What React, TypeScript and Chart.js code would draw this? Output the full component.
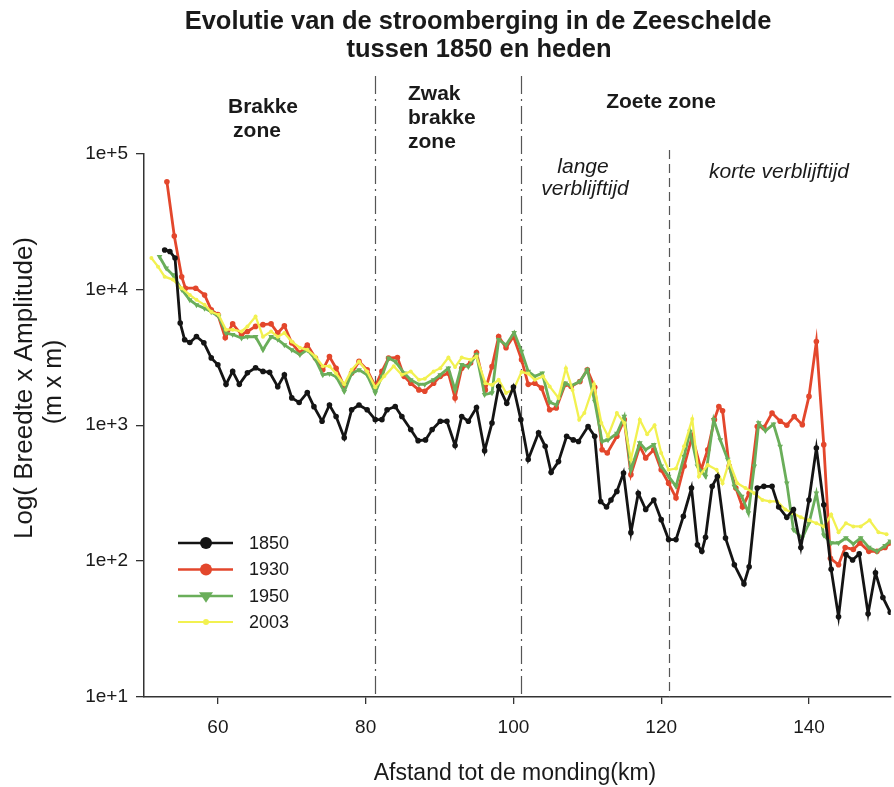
import React, { useEffect, useRef } from 'react';
import { Chart, registerables } from 'chart.js';

Chart.register(...registerables);

const FONT = '"Liberation Sans", Arial, Helvetica, sans-serif';

// ---------- data ----------
const xTicks = [60, 80, 100, 120, 140];
const yTicks = [10, 100, 1000, 10000, 100000];
const zoneBounds = [81.2, 101.0, 121.0];
const seriesLabels = ['1850', '1930', '1950', '2003'];

const km1850 = [52.8, 53.5, 54.2, 54.9, 55.5, 56.2, 57.1, 58.1, 59.1, 60.0, 61.1, 62.0, 62.9, 64.0, 65.1, 66.1, 67.0, 68.1, 69.0, 70.0, 71.0, 72.1, 73.0, 74.1, 75.1, 76.0, 77.1, 78.1, 79.1, 80.2, 81.3, 82.2, 82.9, 84.0, 84.9, 86.1, 87.1, 88.1, 89.0, 90.1, 91.0, 92.1, 93.0, 93.9, 95.0, 96.1, 97.1, 98.0, 99.1, 100.0, 101.0, 102.0, 103.4, 104.3, 105.1, 106.1, 107.2, 108.1, 108.8, 110.1, 111.0, 111.8, 112.6, 113.2, 114.0, 114.9, 115.9, 116.9, 117.9, 119.0, 120.0, 121.0, 122.0, 123.0, 124.1, 124.9, 125.5, 126.0, 126.9, 127.6, 128.7, 129.9, 131.2, 131.9, 133.0, 133.9, 135.0, 135.9, 137.0, 137.9, 138.9, 140.0, 141.0, 142.0, 143.0, 144.0, 145.0, 145.9, 146.8, 148.0, 149.0, 150.0, 151.0];
const val1850 = [19500, 19000, 17000, 5650, 4260, 4060, 4500, 4050, 3130, 2790, 2000, 2490, 2000, 2430, 2650, 2490, 2450, 1920, 2350, 1590, 1470, 1740, 1370, 1070, 1410, 1160, 810, 1300, 1410, 1300, 1100, 1100, 1300, 1375, 1160, 930, 770, 780, 930, 1070, 1070, 710, 1160, 1070, 1350, 650, 1040, 1930, 1450, 1910, 1100, 560, 880, 700, 450, 540, 830, 780, 760, 980, 830, 275, 250, 282, 326, 445, 162, 316, 240, 282, 202, 144, 144, 214, 345, 132, 118, 150, 355, 420, 148, 94, 68, 91, 345, 355, 355, 250, 210, 240, 126, 282, 680, 260, 87, 39, 112, 102, 113, 41, 82, 54, 42];

const km1930 = [53.1, 54.1, 55.1, 55.6, 57.0, 58.2, 59.1, 60.0, 61.0, 62.0, 63.2, 64.0, 65.1, 66.1, 67.2, 68.1, 69.0, 70.0, 71.1, 72.1, 73.2, 74.2, 75.1, 76.0, 77.1, 78.1, 79.1, 80.2, 81.3, 82.2, 83.1, 84.3, 85.2, 86.1, 87.2, 88.0, 89.2, 90.1, 91.2, 92.1, 93.0, 94.2, 95.0, 96.2, 97.1, 98.0, 99.0, 100.0, 101.1, 102.0, 102.9, 103.8, 104.9, 105.8, 107.0, 107.8, 109.0, 110.0, 111.0, 112.0, 112.7, 114.0, 115.0, 115.9, 117.1, 117.9, 119.0, 120.0, 121.0, 122.0, 123.1, 124.2, 125.4, 126.3, 127.2, 127.8, 128.3, 129.2, 130.1, 131.0, 131.9, 133.0, 133.9, 135.0, 136.1, 137.0, 138.0, 139.1, 140.0, 141.0, 142.0, 142.9, 144.0, 144.9, 146.0, 146.9, 148.1, 149.2, 150.3, 151.0];
const val1930 = [62000, 24700, 12400, 10200, 10200, 9100, 7070, 6520, 4400, 5570, 4650, 4900, 5340, 5500, 5570, 4770, 5400, 4030, 3400, 3900, 3120, 2560, 3200, 2630, 1930, 2420, 2950, 2560, 1930, 2490, 3120, 3150, 2290, 2040, 1820, 1780, 2040, 2290, 2420, 1590, 2630, 2870, 3430, 1820, 2700, 4500, 3720, 4500, 3040, 2000, 2040, 1880, 1300, 1340, 2000, 1930, 2100, 2560, 1900, 660, 625, 830, 1100, 433, 700, 575, 660, 470, 375, 292, 500, 830, 470, 660, 1100, 1375, 1280, 500, 345, 250, 316, 980, 960, 1230, 1070, 1000, 1160, 1010, 1630, 4130, 720, 105, 94, 126, 122, 136, 118, 118, 126, 136];

const km1950 = [52.1, 53.0, 53.9, 55.1, 56.2, 57.1, 58.2, 59.1, 60.1, 61.1, 62.0, 63.2, 64.0, 65.1, 66.1, 67.2, 68.1, 69.0, 70.0, 71.1, 72.1, 73.2, 74.2, 75.1, 76.0, 77.1, 78.1, 79.1, 80.2, 81.3, 82.2, 83.1, 84.0, 85.2, 86.1, 87.2, 88.0, 89.2, 90.1, 91.2, 92.1, 93.0, 93.9, 95.0, 96.1, 97.1, 98.0, 99.0, 100.1, 101.1, 102.0, 102.9, 103.9, 104.9, 105.8, 107.0, 107.8, 109.0, 110.0, 111.0, 112.0, 112.8, 114.0, 115.0, 115.9, 117.1, 117.9, 119.0, 120.0, 121.0, 122.0, 123.1, 123.9, 124.9, 126.0, 127.1, 128.0, 129.0, 129.9, 130.9, 131.8, 132.6, 133.2, 134.1, 135.2, 136.1, 137.0, 137.9, 139.1, 140.0, 141.0, 142.0, 143.0, 144.0, 145.0, 146.0, 147.0, 148.1, 149.2, 150.3, 151.0];
const val1950 = [17400, 14300, 12800, 10000, 8370, 7690, 7250, 6830, 6320, 4770, 4650, 4380, 4480, 4480, 3590, 4480, 4280, 3900, 3590, 3310, 3590, 3050, 2350, 2400, 2280, 1770, 2400, 2560, 2350, 1730, 2290, 3120, 2950, 2420, 2160, 2000, 2000, 2160, 2350, 2630, 1820, 2790, 2700, 3310, 1680, 1730, 4260, 3900, 4810, 3490, 2490, 2290, 2420, 1480, 1410, 2040, 1950, 2100, 2560, 1500, 760, 780, 870, 1160, 470, 740, 660, 720, 500, 420, 355, 590, 900, 500, 420, 1100, 780, 560, 355, 300, 226, 500, 1040, 910, 1020, 700, 375, 170, 148, 190, 316, 155, 136, 136, 148, 134, 148, 126, 118, 130, 140];

const km2003 = [51.0, 51.9, 52.8, 53.9, 55.1, 56.2, 57.1, 58.2, 59.1, 60.1, 61.1, 62.0, 63.2, 64.0, 65.1, 66.1, 67.2, 68.1, 69.0, 70.0, 71.1, 72.1, 73.2, 74.2, 75.1, 76.0, 77.1, 78.1, 79.1, 80.2, 81.3, 82.5, 83.8, 84.9, 86.1, 87.2, 88.0, 89.2, 90.1, 91.2, 92.1, 93.0, 94.2, 95.0, 96.2, 97.1, 98.0, 99.0, 100.0, 101.1, 102.0, 102.9, 104.0, 104.9, 106.1, 107.1, 108.0, 108.9, 109.6, 110.9, 111.9, 112.8, 114.0, 115.0, 115.9, 117.1, 118.1, 119.1, 120.0, 121.0, 122.0, 123.1, 124.2, 125.1, 126.3, 127.5, 128.3, 129.2, 130.3, 131.4, 132.6, 133.7, 134.7, 135.7, 136.8, 137.8, 138.9, 140.0, 141.0, 142.0, 143.0, 144.0, 145.0, 146.0, 147.0, 148.2, 149.4, 150.5];
const val2003 = [17000, 14700, 12400, 11800, 10200, 9100, 8370, 7700, 6830, 6500, 5050, 5050, 4900, 5340, 6320, 4480, 4900, 4480, 4770, 4130, 3720, 3590, 3200, 2720, 2720, 2400, 2000, 2560, 2950, 2490, 1900, 2290, 2720, 2350, 2490, 2160, 2200, 2490, 2630, 3150, 2680, 3150, 3040, 3200, 2040, 1980, 2160, 1730, 1820, 2470, 2400, 2160, 2290, 1930, 1590, 2630, 1820, 1100, 1230, 2000, 1040, 830, 1230, 1040, 560, 1100, 860, 1000, 625, 470, 480, 700, 1110, 420, 510, 470, 375, 540, 375, 345, 316, 282, 275, 275, 240, 226, 210, 200, 190, 180, 220, 163, 190, 180, 180, 200, 163, 158];

const COLORS = ['#141414', '#e3472c', '#6aae5a', '#f2f150'];

const toPoints = (xs: number[], ys: number[]) => xs.map((k, i) => ({ x: k, y: ys[i] }));

const overlayPlugin = {
  id: 'overlay',
  beforeDatasetsDraw(chart: any) {
    const { ctx, scales, chartArea } = chart;
    const xs = scales.x;
    const tops = [76, 76, 150];
    ctx.save();
    ctx.strokeStyle = '#555';
    ctx.lineWidth = 1.2;
    zoneBounds.forEach((km, i) => {
      const px = Math.round(xs.getPixelForValue(km)) + 0.5;
      ctx.setLineDash(i < 2 ? [18, 5, 2, 5] : [9, 5]);
      ctx.beginPath();
      ctx.moveTo(px, tops[i]);
      ctx.lineTo(px, chartArea.bottom);
      ctx.stroke();
    });
    ctx.restore();
  },
  afterDraw(chart: any) {
    const { ctx } = chart;
    ctx.save();
    ctx.fillStyle = '#1a1a1a';
    ctx.textBaseline = 'alphabetic';

    // title
    ctx.font = `bold 25.5px ${FONT}`;
    ctx.textAlign = 'center';
    ctx.fillText('Evolutie van de stroomberging in de Zeeschelde', 478, 29);
    ctx.fillText('tussen 1850 en heden', 479, 57);

    // zone labels
    ctx.font = `bold 21px ${FONT}`;
    ctx.textAlign = 'center';
    ctx.fillText('Brakke', 263, 113);
    ctx.fillText('zone', 257, 137);
    ctx.textAlign = 'left';
    ctx.fillText('Zwak', 408, 100);
    ctx.fillText('brakke', 408, 124);
    ctx.fillText('zone', 408, 148);
    ctx.textAlign = 'center';
    ctx.fillText('Zoete zone', 661, 108);

    ctx.font = `italic 21px ${FONT}`;
    ctx.fillText('lange', 583, 173);
    ctx.fillText('verblijftijd', 585, 195);
    ctx.fillText('korte verblijftijd', 779, 178);

    // axis titles
    ctx.font = `23px ${FONT}`;
    ctx.textBaseline = 'middle';
    ctx.fillText('Afstand tot de monding(km)', 515, 774);

    ctx.save();
    ctx.translate(25, 388);
    ctx.rotate(-Math.PI / 2);
    ctx.font = `26px ${FONT}`;
    ctx.fillText('Log( Breedte x Amplitude)', 0, 0);
    ctx.restore();
    ctx.save();
    ctx.translate(54, 382);
    ctx.rotate(-Math.PI / 2);
    ctx.font = `25px ${FONT}`;
    ctx.fillText('(m x m)', 0, 0);
    ctx.restore();

    // legend
    const rowY = [543, 569.5, 596, 622];
    seriesLabels.forEach((lab, i) => {
      const y = rowY[i];
      const c = COLORS[i];
      ctx.strokeStyle = c;
      ctx.lineWidth = i === 3 ? 2.2 : 2.6;
      ctx.beginPath();
      ctx.moveTo(178, y);
      ctx.lineTo(233, y);
      ctx.stroke();
      ctx.fillStyle = c;
      ctx.beginPath();
      if (i === 2) {
        const r = 7;
        ctx.moveTo(206 - r, y - r * 0.55);
        ctx.lineTo(206 + r, y - r * 0.55);
        ctx.lineTo(206, y + r * 0.95);
        ctx.closePath();
      } else {
        ctx.arc(206, y, i === 3 ? 3 : 6, 0, Math.PI * 2);
      }
      ctx.fill();
      ctx.fillStyle = '#1a1a1a';
      ctx.font = `18px ${FONT}`;
      ctx.textAlign = 'left';
      ctx.textBaseline = 'middle';
      ctx.fillText(lab, 249, y + 1);
    });
    ctx.restore();
  },
};

export default function App() {
  const ref = useRef<HTMLCanvasElement | null>(null);
  useEffect(() => {
    if (!ref.current) return;
    const mk = (i: number, xs: number[], ys: number[], extra: any = {}) => ({
      label: seriesLabels[i],
      data: toPoints(xs, ys),
      borderColor: COLORS[i],
      backgroundColor: COLORS[i],
      pointBackgroundColor: COLORS[i],
      pointBorderWidth: 0,
      borderWidth: 2.8,
      pointRadius: 2.8,
      pointHoverRadius: 0,
      tension: 0,
      ...extra,
    });
    const chart = new Chart(ref.current, {
      type: 'line',
      data: {
        datasets: [
          mk(0, km1850, val1850, { order: 0 }),
          mk(1, km1930, val1930, { order: 3 }),
          mk(2, km1950, val1950, { order: 2, pointStyle: 'triangle', pointRotation: 180, pointRadius: 3.3 }),
          mk(3, km2003, val2003, { order: 1, borderWidth: 2.3, pointRadius: 2 }),
        ],
      },
      options: {
        responsive: false,
        animation: false,
        events: [],
        layout: { padding: { left: 0, right: 0, top: 153.5, bottom: 0 } },
        plugins: {
          legend: { display: false },
          title: { display: false },
          tooltip: { enabled: false },
        },
        scales: {
          x: {
            type: 'linear',
            min: 50,
            max: 151.06,
            afterBuildTicks: (s: any) => {
              s.ticks = xTicks.map((v) => ({ value: v }));
            },
            afterFit: (s: any) => {
              s.height = 90;
            },
            grid: { drawOnChartArea: false, tickLength: 7, color: '#333', lineWidth: 1.3 },
            border: { color: '#333', width: 1.5 },
            ticks: {
              font: { family: FONT, size: 19 },
              color: '#1a1a1a',
              padding: 12,
              maxRotation: 0,
              autoSkip: false,
            },
          },
          y: {
            type: 'logarithmic',
            min: 10,
            max: 100000,
            afterBuildTicks: (s: any) => {
              s.ticks = yTicks.map((v) => ({ value: v }));
            },
            afterFit: (s: any) => {
              s.width = 144;
            },
            grid: { drawOnChartArea: false, tickLength: 8, color: '#333', lineWidth: 1.3 },
            border: { color: '#333', width: 1.5 },
            ticks: {
              font: { family: FONT, size: 19 },
              color: '#1a1a1a',
              padding: 8,
              autoSkip: false,
              callback: (v: any) => '1e+' + Math.round(Math.log10(Number(v))),
            },
          },
        },
      },
      plugins: [overlayPlugin],
    } as any);
    return () => chart.destroy();
  }, []);
  return (
    <canvas
      ref={ref}
      width={894}
      height={787}
      style={{ position: 'absolute', left: 0, top: 0, width: 894, height: 787, display: 'block', background: '#fff' }}
    />
  );
}
